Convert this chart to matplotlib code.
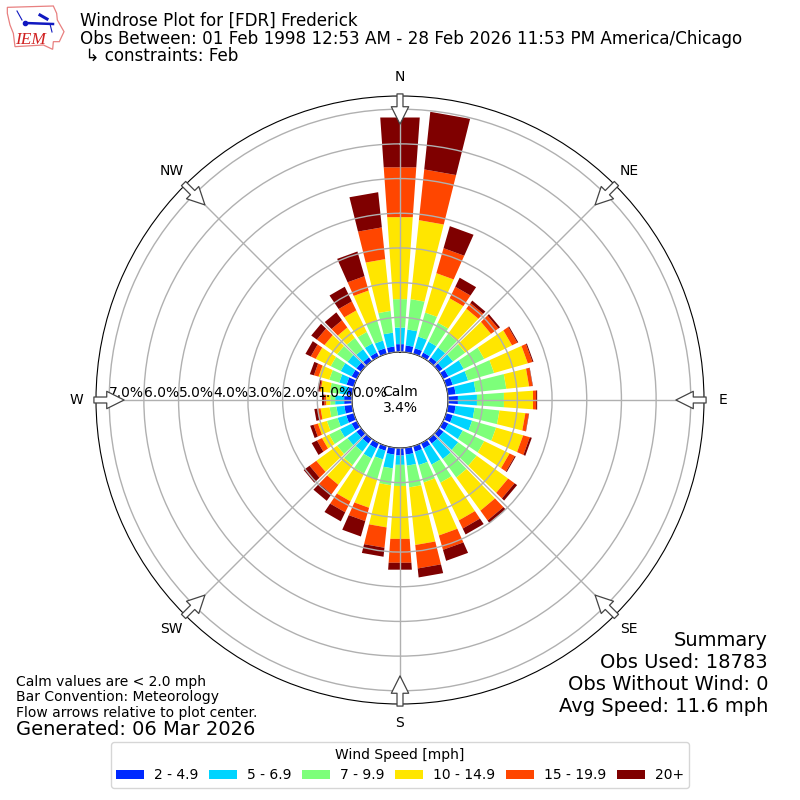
import numpy as np
import matplotlib
matplotlib.use("Agg")
import matplotlib.pyplot as plt
from matplotlib.patches import Polygon

directions = list(range(0, 360, 10))
speed_labels = ["2 - 4.9", "5 - 6.9", "7 - 9.9", "10 - 14.9", "15 - 19.9", "20+"]
speed_colors = ["#0029ff", "#00d4ff", "#7dff7a", "#ffe600", "#ff4600", "#7f0000"]
s2 = [.23,.20,.17,.14,.14,.14,.17,.20,.23,.29,.23,.20,.17,.17,.17,.17,.17,.20,.22,.20,.14,.17,.17,.17,.17,.23,.23,.23,.14,.22,.17,.17,.14,.14,.17,.17]
s5 = [.48,.46,.35,.35,.35,.37,.49,.46,.58,.55,.55,.58,.46,.52,.55,.52,.40,.32,.27,.40,.26,.32,.29,.32,.37,.26,.23,.26,.22,.22,.35,.32,.29,.29,.23,.40]
s7 = [.82,.88,.72,.61,.49,.43,.66,.78,.89,.78,.72,.72,.69,.66,.66,.58,.52,.63,.61,.49,.61,.49,.48,.37,.35,.32,.20,.14,.29,.30,.32,.37,.40,.37,.61,.63]
s10 = [2.37,2.29,1.18,.78,.89,.92,.89,1.01,.66,.84,.75,.81,.81,1.12,1.18,1.21,1.59,1.67,1.53,1.22,.84,.89,.70,.74,.23,.27,.26,.12,.27,.32,.48,.45,.37,.69,.89,1.50]
s15 = [1.44,1.47,.75,.37,.20,.26,.17,.14,.10,.09,.10,.20,.17,.23,.35,.26,.43,.68,.69,.59,.40,.35,.33,.24,.16,.13,.09,.05,.03,.14,.16,.27,.26,.29,.43,.92]
s20 = [1.44,1.67,.66,.29,.09,.06,.03,.03,.01,.03,.01,.06,.03,.09,.09,.19,.33,.26,.20,.26,.46,.29,.24,.21,.17,.10,.09,.07,.06,.12,.17,.20,.28,.47,.74,1.02]
series = [s2, s5, s7, s10, s15, s20]
rticks = [0, 1, 2, 3, 4, 5, 6, 7]
compass = ["N", "NE", "E", "SE", "S", "SW", "W", "NW"]

fig = plt.figure(figsize=(8, 8), dpi=100)
ax = fig.add_axes([96/800, 96/800, 608/800, 608/800], projection="polar")
ax.set_theta_zero_location("N")
ax.set_theta_direction(-1)
theta = np.deg2rad(directions)
bottom = np.zeros(len(directions))
for vals, lab, col in zip(series, speed_labels, speed_colors):
    ax.bar(theta, vals, width=np.deg2rad(8), bottom=bottom, color=col, label=lab, linewidth=0)
    bottom += np.array(vals)
# the reference's bar ends are straight chords, not arcs
ax.patches[0].get_path()._interpolation_steps = 1
ax.set_axisbelow(False)
ax.set_rorigin(-48/34.7)
ax.set_ylim(0, 7.38)
ax.set_rticks(rticks)
ax.set_yticklabels([f"{v:.1f}%" for v in rticks], fontsize=10)
ax.set_rlabel_position(270)
for t in ax.get_yticklabels():
    t.set_ha("left")
    t.set_va("bottom")
ax.set_thetagrids(range(0, 360, 45), compass, fontsize=10)
ax.tick_params(axis="x", pad=3.5)
ax.grid(True, color="#b0b0b0", linewidth=1)

# flow arrows
for d in range(0, 360, 45):
    a = np.deg2rad(d)
    ax.annotate("", xy=(a, 6.57), xytext=(a, 7.44), annotation_clip=False,
                arrowprops=dict(facecolor="white", edgecolor="#444444", linewidth=0.9,
                                width=4.3, headwidth=12.5, headlength=12.5, shrink=0))

fig.text(400/800, 1-400/800, "Calm\n3.4%", ha="center", va="center", fontsize=10, linespacing=1.2)

fig.text(80/800, 1-12/800, "Windrose Plot for [FDR] Frederick\nObs Between: 01 Feb 1998 12:53 AM - 28 Feb 2026 11:53 PM America/Chicago\n \u21b3 constraints: Feb",
         ha="left", va="top", fontsize=12.05, linespacing=0.97)
fig.text(768/800, 1-716/800, "Summary\nObs Used: 18783\nObs Without Wind: 0\nAvg Speed: 11.6 mph",
         ha="right", va="bottom", fontsize=14, linespacing=1.19)
fig.text(16/800, 1-720/800, "Calm values are < 2.0 mph\nBar Convention: Meteorology\nFlow arrows relative to plot center.",
         ha="left", va="bottom", fontsize=10, linespacing=1.15)
fig.text(16/800, 1-739/800, "Generated: 06 Mar 2026", ha="left", va="bottom", fontsize=14)

leg = fig.legend(*ax.get_legend_handles_labels(), loc="lower center", bbox_to_anchor=(0.5, 1-788/800),
                 ncol=6, title="Wind Speed [mph]", fontsize=10, title_fontsize=10, borderaxespad=0,
                 columnspacing=0.8, handletextpad=0.7)

# IEM logo
lax = fig.add_axes([0, 1-60/800, 75/800, 60/800])
lax.set_xlim(0, 75); lax.set_ylim(60, 0); lax.axis("off")
lax.add_patch(Polygon(np.array([(22,22),(160,18),(170,40),(172,60),(192,95),(178,125),(160,125),(158,148),(130,135),(45,140),(40,100),(30,75),(22,40)])/3,
                      closed=True, fill=False, edgecolor="#e88080", lw=0.9))
lax.plot([25, 53], [23, 24], color="#1018c0", lw=1.8)
lax.plot([25], [23], "o", color="#1018c0", ms=3)
lax.plot([17, 22], [11, 20], color="#1018c0", lw=0.8)
lax.plot([40, 47], [15, 19], color="#1018c0", lw=2.2)
lax.plot([50, 52], [24, 32], color="#1018c0", lw=0.8)
lax.text(30.5, 44, "IEM", color="#d02020", fontsize=12.5, family="Liberation Serif", style="italic", ha="center", va="baseline")

fig.savefig("out.png", dpi=100)
